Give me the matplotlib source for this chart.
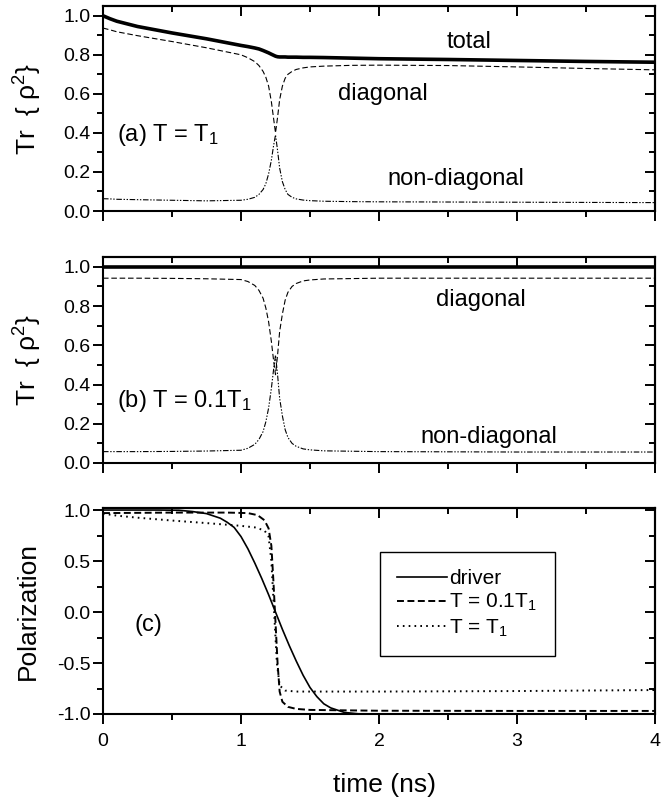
import matplotlib
matplotlib.use("Agg")
import matplotlib.pyplot as plt
from matplotlib.ticker import MultipleLocator

plt.rcParams['font.family'] = ['Liberation Sans', 'DejaVu Sans']
plt.rcParams['mathtext.fontset'] = 'custom'
plt.rcParams['mathtext.rm'] = 'Liberation Sans'
plt.rcParams['mathtext.it'] = 'Liberation Sans'
plt.rcParams['lines.scale_dashes'] = False
plt.rcParams['axes.unicode_minus'] = False

# time grid (ns) for panels (a) and (b)
t_ab = [0.0, 0.05, 0.1, 0.25, 0.5, 0.75, 1.0, 1.05, 1.1, 1.13, 1.16, 1.18, 1.2, 1.22, 1.235,
        1.25, 1.265, 1.28, 1.3, 1.32, 1.34, 1.37, 1.4, 1.45, 1.5, 1.6, 1.8, 2.0, 2.5, 3.0, 3.5, 4.0]

# (a) T = T1
total_a = [1.0, 0.985, 0.972, 0.945, 0.912, 0.882, 0.848, 0.842, 0.835, 0.83, 0.822, 0.816,
           0.81, 0.803, 0.798, 0.793, 0.79, 0.789, 0.789, 0.789, 0.788, 0.788, 0.788, 0.787,
           0.787, 0.786, 0.783, 0.78, 0.776, 0.771, 0.766, 0.762]
diag_a = [0.937, 0.928, 0.918, 0.898, 0.868, 0.836, 0.80, 0.785, 0.765, 0.745, 0.715, 0.685,
          0.64, 0.56, 0.48, 0.40, 0.48, 0.57, 0.64, 0.68, 0.70, 0.715, 0.725, 0.733, 0.738,
          0.742, 0.746, 0.747, 0.745, 0.738, 0.73, 0.723]
nondiag_a = [0.063, 0.062, 0.06, 0.058, 0.055, 0.052, 0.055, 0.06, 0.07, 0.085, 0.11, 0.14,
             0.19, 0.26, 0.33, 0.39, 0.31, 0.22, 0.15, 0.11, 0.085, 0.07, 0.062, 0.056, 0.053,
             0.05, 0.048, 0.047, 0.046, 0.045, 0.044, 0.043]

# (b) T = 0.1 T1
t_total_b = [0.0, 4.0]
total_b = [1.0, 1.0]
diag_b = [0.942, 0.942, 0.942, 0.942, 0.941, 0.939, 0.935, 0.925, 0.905, 0.88, 0.84, 0.79,
          0.72, 0.62, 0.53, 0.45, 0.55, 0.67, 0.76, 0.83, 0.87, 0.90, 0.915, 0.928, 0.933,
          0.938, 0.94, 0.942, 0.942, 0.942, 0.942, 0.942]
nondiag_b = [0.058, 0.058, 0.058, 0.058, 0.059, 0.061, 0.065, 0.075, 0.095, 0.12, 0.16, 0.21,
             0.28, 0.38, 0.47, 0.55, 0.45, 0.33, 0.24, 0.17, 0.13, 0.10, 0.085, 0.072, 0.067,
             0.062, 0.06, 0.058, 0.057, 0.056, 0.056, 0.056]

# (c) polarization
t_drv = [0.0, 0.4, 0.55, 0.65, 0.75, 0.85, 0.9, 0.95, 1.0, 1.05, 1.1, 1.15, 1.2, 1.25, 1.3,
         1.35, 1.4, 1.45, 1.5, 1.55, 1.6, 1.65, 1.75, 1.85, 1.95, 2.1, 4.0]
p_drv = [1.0, 1.0, 0.998, 0.985, 0.965, 0.92, 0.88, 0.83, 0.74, 0.62, 0.48, 0.33, 0.17, 0.0,
         -0.17, -0.33, -0.48, -0.62, -0.74, -0.83, -0.90, -0.94, -0.985, -0.998, -1.0, -1.0, -1.0]
t_fast = [0.0, 0.5, 0.9, 1.05, 1.12, 1.17, 1.2, 1.22, 1.235, 1.25, 1.265, 1.28, 1.3, 1.34,
          1.4, 1.5, 2.0, 3.0, 4.0]
p_fast = [0.97, 0.975, 0.975, 0.97, 0.95, 0.90, 0.82, 0.65, 0.3, -0.1, -0.5, -0.78, -0.88,
          -0.93, -0.95, -0.96, -0.968, -0.97, -0.97]
t_slow = [0.0, 0.1, 0.25, 0.5, 0.75, 1.0, 1.1, 1.17, 1.2, 1.22, 1.24, 1.26, 1.28, 1.32, 1.4,
          2.0, 3.0, 4.0]
p_slow = [0.965, 0.945, 0.925, 0.897, 0.872, 0.845, 0.83, 0.80, 0.74, 0.5, 0.0, -0.5, -0.72,
          -0.77, -0.78, -0.78, -0.775, -0.765]

thin_dash = dict(color='k', lw=0.8, dashes=(4, 2))
dash_dot_dot = dict(color='k', lw=0.8, dashes=(4, 1.2, 1, 1.2, 1, 1.2))

fig = plt.figure(figsize=(6.72, 7.97), dpi=100)
left, width = 103 / 672, 552 / 672
ax_a = fig.add_axes([left, 1 - 211 / 797, width, 205 / 797])
ax_b = fig.add_axes([left, 1 - 463 / 797, width, 206 / 797])
ax_c = fig.add_axes([left, 1 - 714 / 797, width, 206 / 797])


def style_axes(ax, ymajor, show_x):
    ax.set_xlim(0, 4)
    ax.xaxis.set_major_locator(MultipleLocator(1))
    ax.xaxis.set_minor_locator(MultipleLocator(0.5))
    ax.yaxis.set_major_locator(MultipleLocator(ymajor))
    ax.yaxis.set_minor_locator(MultipleLocator(ymajor / 2))
    ax.tick_params(which='both', direction='out', width=1.4, labelsize=14, top=False, right=False)
    ax.tick_params(which='major', length=7.5)
    ax.tick_params(which='minor', length=4)
    ax.tick_params(axis='y', pad=1.5)
    ax.tick_params(axis='x', pad=6, labelbottom=show_x)
    for s in ax.spines.values():
        s.set_linewidth(1.5)
    # inward ticks on the top and right frame
    top = ax.secondary_xaxis('top')
    top.xaxis.set_major_locator(MultipleLocator(1))
    top.xaxis.set_minor_locator(MultipleLocator(0.5))
    top.tick_params(which='both', direction='in', width=1.4, labeltop=False)
    top.tick_params(which='major', length=7.5)
    top.tick_params(which='minor', length=4)
    top.spines['top'].set_linewidth(1.5)
    right = ax.secondary_yaxis('right')
    right.yaxis.set_major_locator(MultipleLocator(ymajor))
    right.yaxis.set_minor_locator(MultipleLocator(ymajor / 2))
    right.tick_params(which='both', direction='in', width=1.4, labelright=False)
    right.tick_params(which='major', length=7.5)
    right.tick_params(which='minor', length=4)
    right.spines['right'].set_linewidth(1.5)


ylab_rho = 'Tr  { ρ$^2$}'

# panel (a)
ax_a.plot(t_ab, total_a, color='k', lw=2.6)
ax_a.plot(t_ab, diag_a, **thin_dash)
ax_a.plot(t_ab, nondiag_a, **dash_dot_dot)
ax_a.set_ylim(0, 1.05)
style_axes(ax_a, 0.2, False)
ax_a.set_ylabel(ylab_rho, fontsize=19, va='center')
ax_a.yaxis.set_label_coords(-0.136, 0.5)
ax_a.text(2.49, 0.834, 'total', fontsize=17)
ax_a.text(1.70, 0.57, 'diagonal', fontsize=17)
ax_a.text(0.10, 0.36, '(a) T = T$_1$', fontsize=17)
ax_a.text(2.06, 0.133, 'non-diagonal', fontsize=17)

# panel (b)
ax_b.plot(t_total_b, total_b, color='k', lw=2.6)
ax_b.plot(t_ab, diag_b, **thin_dash)
ax_b.plot(t_ab, nondiag_b, **dash_dot_dot)
ax_b.set_ylim(0, 1.05)
style_axes(ax_b, 0.2, False)
ax_b.set_ylabel(ylab_rho, fontsize=19, va='center')
ax_b.yaxis.set_label_coords(-0.136, 0.5)
ax_b.text(2.41, 0.80, 'diagonal', fontsize=17)
ax_b.text(0.10, 0.287, '(b) T = 0.1T$_1$', fontsize=17)
ax_b.text(2.30, 0.104, 'non-diagonal', fontsize=17)

# panel (c)
ax_c.plot(t_drv, p_drv, color='k', lw=1.2, label='driver')
ax_c.plot(t_fast, p_fast, color='k', lw=1.4, dashes=(5, 2.5), label='T = 0.1T$_1$')
ax_c.plot(t_slow, p_slow, color='k', lw=1.4, dashes=(1.2, 3), label='T = T$_1$')
ax_c.set_ylim(-1.0, 1.02)
style_axes(ax_c, 0.5, True)
ax_c.set_ylabel('Polarization', fontsize=19, va='center')
ax_c.yaxis.set_label_coords(-0.136, 0.5)
ax_c.set_xlabel('time (ns)', fontsize=19, va='center')
ax_c.xaxis.set_label_coords(0.51, -0.345)
ax_c.text(0.23, -0.19, '(c)', fontsize=17)
leg = ax_c.legend(loc='center', bbox_to_anchor=(0.502, 0.272, 0.317, 0.524), mode='expand',
                  fontsize=15, frameon=True, fancybox=False, edgecolor='k', framealpha=1,
                  borderpad=0.8, labelspacing=0.2, handlelength=2.4, handletextpad=0.1,
                  borderaxespad=0)
leg.get_frame().set_linewidth(1.0)

fig.savefig('out.png', dpi=100)
